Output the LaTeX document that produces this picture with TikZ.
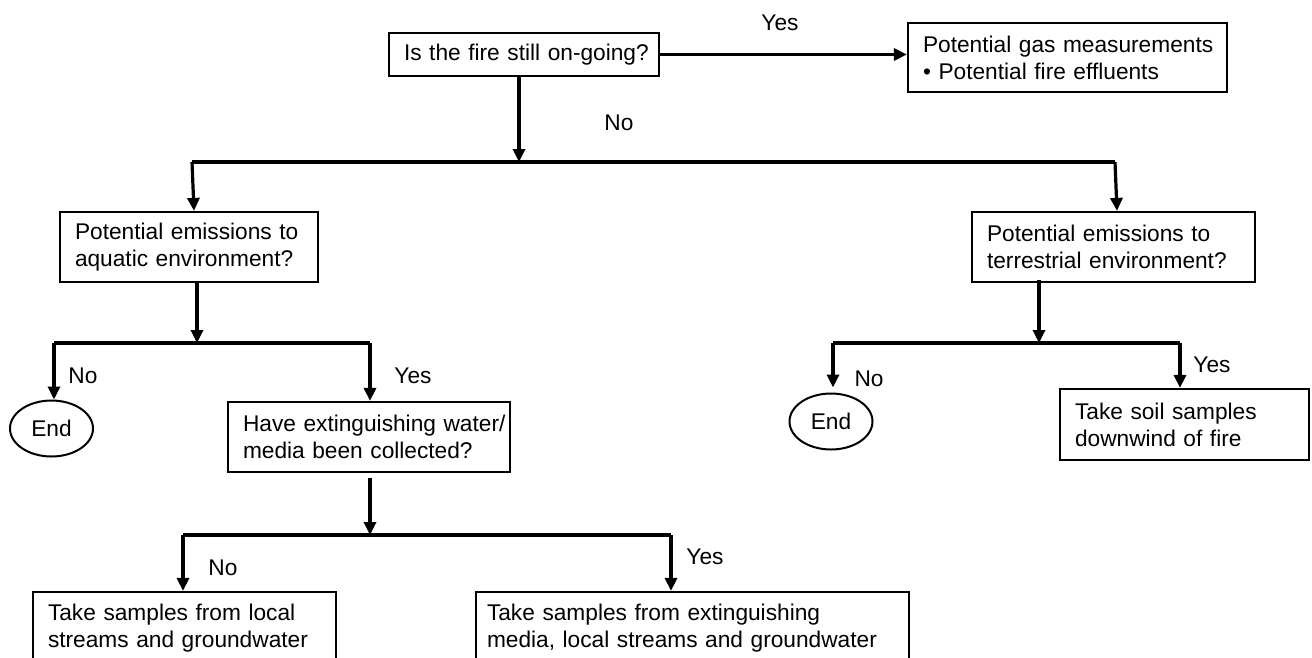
\documentclass[tikz,border=0pt]{standalone}
\usepackage{fontspec}
\setmainfont{Liberation Sans}
\usetikzlibrary{arrows.meta,shapes.geometric}
\tikzset{
  txt/.style={font=\fontsize{22.7}{27}\selectfont},
  box/.style={txt, draw, line width=2.2pt, inner xsep=15pt, inner ysep=0pt, align=left},
  endnode/.style={txt, draw, ellipse, line width=2pt, inner sep=0pt, minimum width=83pt, minimum height=56pt},
  conn/.style={line width=3.2pt},
  arr/.style={conn, -{Triangle[length=13pt,width=12pt]}},
  lbl/.style={txt, inner sep=0pt}
}
\begin{document}
\begin{tikzpicture}[x=1pt,y=-1pt]
\useasboundingbox (0,0) rectangle (1312,657);
\clip (0,0) rectangle (1312,657);
\fill[white] (0,0) rectangle (1312,657);

% boxes
\node[box, text width=240pt, align=center, minimum height=43pt] (q1) at (524,54.5) {\mbox{Is the fire still on-going?}};
\node[box, text width=289pt, minimum height=69pt] (gas) at (1067.5,57.5) {\mbox{Potential gas measurements}\\\mbox{\textbullet\ Potential fire effluents}};
\node[box, text width=228pt, minimum height=70pt] (aq) at (189,247) {\mbox{Potential emissions to}\\\mbox{aquatic environment?}};
\node[box, text width=253pt, minimum height=70pt] (ter) at (1113.5,247) {\mbox{Potential emissions to}\\\mbox{terrestrial environment?}};
\node[endnode] (end1) at (51.5,428.5) {End};
\node[box, text width=252pt, minimum height=70pt] (have) at (369,437) {\mbox{Have extinguishing water/}\\\mbox{media been collected?}};
\node[endnode] (end2) at (831,421.5) {End};
\node[box, text width=219pt, minimum height=71pt] (soil) at (1184.5,424.5) {\mbox{Take soil samples}\\\mbox{downwind of fire}};
\node[box, text width=273pt, minimum height=73pt] (bl) at (184.5,628.5) {\mbox{Take samples from local}\\\mbox{streams and groundwater}};
\node[box, inner xsep=11pt, text width=411pt, minimum height=73pt] (br) at (692.5,628.5) {\mbox{Take samples from extinguishing}\\\mbox{media, local streams and groundwater}};

% junction coordinates
\coordinate (j1) at (519,162);
\coordinate (j1l) at (192,162);
\coordinate (j1r) at (1115,162);
\coordinate (j2) at (197,343);
\coordinate (j2l) at (54,343);
\coordinate (j2r) at (370,343);
\coordinate (j3) at (370,535);
\coordinate (j3l) at (183,535);
\coordinate (j3r) at (671,535);
\coordinate (j4) at (1039,343);
\coordinate (j4l) at (833,343);
\coordinate (j4r) at (1180,343);

% top
\draw[arr] (q1.east) -- (q1.east -| gas.west);
\draw[arr] (q1.south -| j1) -- (j1);
\draw[conn] (j1l) -- (j1r);
\draw[arr] (j1l) -- ([xshift=5pt]aq.north);
\draw[arr] (j1r) -- ([xshift=3.5pt]ter.north);

% aquatic branch
\draw[arr] (aq.south -| j2) -- (j2);
\draw[conn] (j2l) -- (j2r);
\draw[arr] (j2l) -- (j2l |- end1.north);
\draw[arr] (j2r) -- (j2r |- have.north);
\draw[arr] ([yshift=-5pt]have.south -| j3) -- (j3);
\draw[conn] (j3l) -- (j3r);
\draw[arr] (j3l) -- (j3l |- bl.north);
\draw[arr] (j3r) -- (j3r |- br.north);

% terrestrial branch
\draw[arr] ([yshift=3pt]ter.south -| j4) -- (j4);
\draw[conn] (j4l) -- (j4r);
\draw[arr, shorten >=5pt] (j4l) -- (j4l |- end2.north);
\draw[arr] (j4r) -- (j4r |- soil.north);

% labels
\node[lbl] (yes1) at (780,23) {Yes};
\node[lbl] (no1) at (619,123) {No};
\node[lbl] (no2) at (83,376) {No};
\node[lbl] (yes2) at (413,376) {Yes};
\node[lbl] (no3) at (223,568) {No};
\node[lbl] (yes3) at (705,557) {Yes};
\node[lbl] (no4) at (869,379) {No};
\node[lbl] (yes4) at (1212,365) {Yes};
\end{tikzpicture}
\end{document}
